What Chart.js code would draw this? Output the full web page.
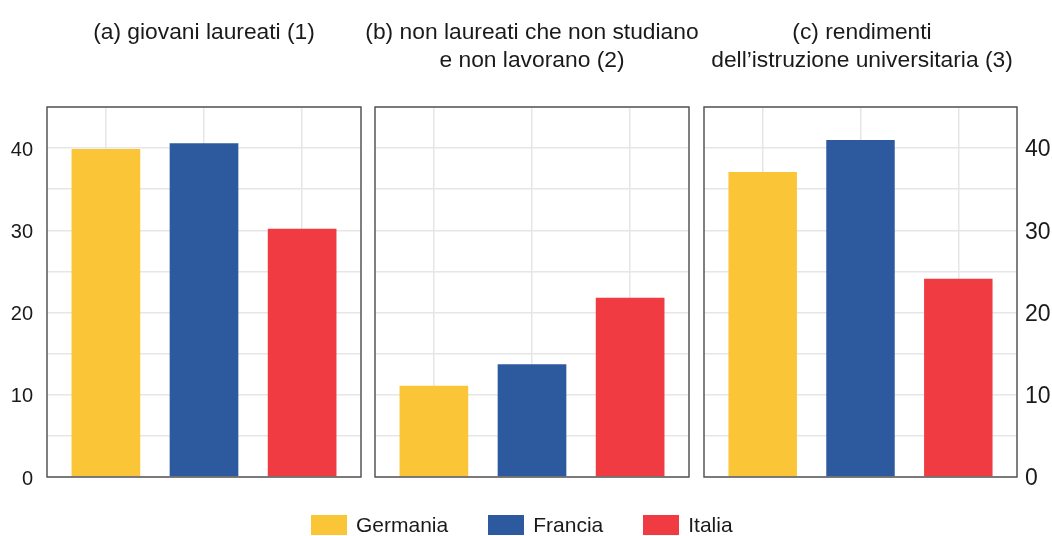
<!DOCTYPE html>
<html>
<head>
<meta charset="utf-8">
<script src="https://cdn.jsdelivr.net/npm/chart.js@4/dist/chart.umd.min.js"></script>
<style>
  html, body { margin: 0; padding: 0; background: #fff; }
  #wrap { position: relative; width: 1052px; height: 536px; overflow: hidden; font-family: "Liberation Sans", Arial, Helvetica, sans-serif; color: #1a1a1a; }
  canvas { position: absolute; top: 0; }
  .title { position: absolute; top: 17px; width: 420px; margin-left: -210px; text-align: center; font-size: 22.8px; line-height: 28px; white-space: nowrap; }
  #legend { position: absolute; left: 311px; top: 514px; display: flex; gap: 40px; font-size: 21px; line-height: 22px; }
  .item { display: flex; align-items: center; }
  .box { width: 36px; height: 20px; margin-right: 9px; }
</style>
</head>
<body>
<div id="wrap">
  <canvas id="cA" width="380" height="536" style="left:0px"></canvas>
  <canvas id="cB" width="340" height="536" style="left:360px"></canvas>
  <canvas id="cC" width="362" height="536" style="left:690px"></canvas>
  <div class="title" id="tA" style="left:204px"></div>
  <div class="title" id="tB" style="left:532px"></div>
  <div class="title" id="tC" style="left:862px"></div>
  <div id="legend"></div>
</div>
<script>
// ---- data ----
const categories = ['Germania', 'Francia', 'Italia'];
const colors = ['#FBC538', '#2D5A9E', '#EF3B41'];
const panelTitles = [
  ['(a) giovani laureati (1)'],
  ['(b) non laureati che non studiano', 'e non lavorano (2)'],
  ['(c) rendimenti', 'dell\u2019istruzione universitaria (3)']
];
const giovaniLaureati = [39.9, 40.6, 30.2];
const nonLaureatiNeet = [11.1, 13.7, 21.8];
const rendimentiIstruzione = [37.1, 41.0, 24.1];
const yTicks = [0, 10, 20, 30, 40];

// ---- titles & legend ----
['tA', 'tB', 'tC'].forEach((id, i) => {
  document.getElementById(id).innerHTML = panelTitles[i].join('<br>');
});
const legend = document.getElementById('legend');
categories.forEach((c, i) => {
  const it = document.createElement('div');
  it.className = 'item';
  it.innerHTML = '<span class="box" style="background:' + colors[i] + '"></span><span>' + c + '</span>';
  legend.appendChild(it);
});

// ---- charts ----
const FONT = '"Liberation Sans", Arial, Helvetica, sans-serif';
const boxPlugin = {
  id: 'panelBox',
  afterDatasetsDraw(chart) {
    const a = chart.chartArea, ctx = chart.ctx;
    ctx.save();
    ctx.strokeStyle = '#555';
    ctx.lineWidth = 1.5;
    ctx.strokeRect(a.left, a.top, a.right - a.left, a.bottom - a.top);
    ctx.restore();
  }
};

function makePanel(canvasId, values, cfg) {
  const gridColor = '#e6e6e6';
  new Chart(document.getElementById(canvasId), {
    type: 'bar',
    data: {
      datasets: [{
        data: values.map((v, i) => ({ x: i, y: v })),
        backgroundColor: colors,
        borderWidth: 0,
        barPercentage: 0.7,
        categoryPercentage: 1.0
      }]
    },
    options: {
      responsive: false,
      animation: false,
      devicePixelRatio: 1,
      layout: { padding: cfg.padding },
      plugins: { legend: { display: false }, title: { display: false }, tooltip: { enabled: false } },
      scales: {
        x: {
          type: 'linear',
          min: -0.6, max: 2.6,
          offset: false,
          grid: { offset: false, color: gridColor, lineWidth: 1.5, drawTicks: false },
          border: { display: false },
          ticks: { display: false, stepSize: 1, includeBounds: false },
          afterFit(s) { s.height = 0; }
        },
        y: {
          position: cfg.yPos,
          min: 0, max: 45,
          grid: { color: gridColor, lineWidth: 1.5, drawTicks: false },
          border: { display: false },
          ticks: {
            display: cfg.yLabels,
            stepSize: 5,
            padding: cfg.tickPad,
            labelOffset: 2,
            color: '#1a1a1a',
            font: { family: FONT, size: cfg.tickSize },
            callback: v => (yTicks.includes(v) ? String(v) : '')
          },
          afterFit(s) { s.width = cfg.yWidth; }
        }
      }
    },
    plugins: [boxPlugin]
  });
}

makePanel('cA', giovaniLaureati, { padding: { left: 0, top: 107, right: 19, bottom: 59 }, yPos: 'left', yLabels: true, tickPad: 14, tickSize: 20, yWidth: 47 });
makePanel('cB', nonLaureatiNeet, { padding: { left: 15, top: 107, right: 11, bottom: 59 }, yPos: 'left', yLabels: false, tickPad: 0, tickSize: 20, yWidth: 0 });
makePanel('cC', rendimentiIstruzione, { padding: { left: 14, top: 107, right: 0, bottom: 59 }, yPos: 'right', yLabels: true, tickPad: 8, tickSize: 23, yWidth: 35 });
</script>
</body>
</html>
